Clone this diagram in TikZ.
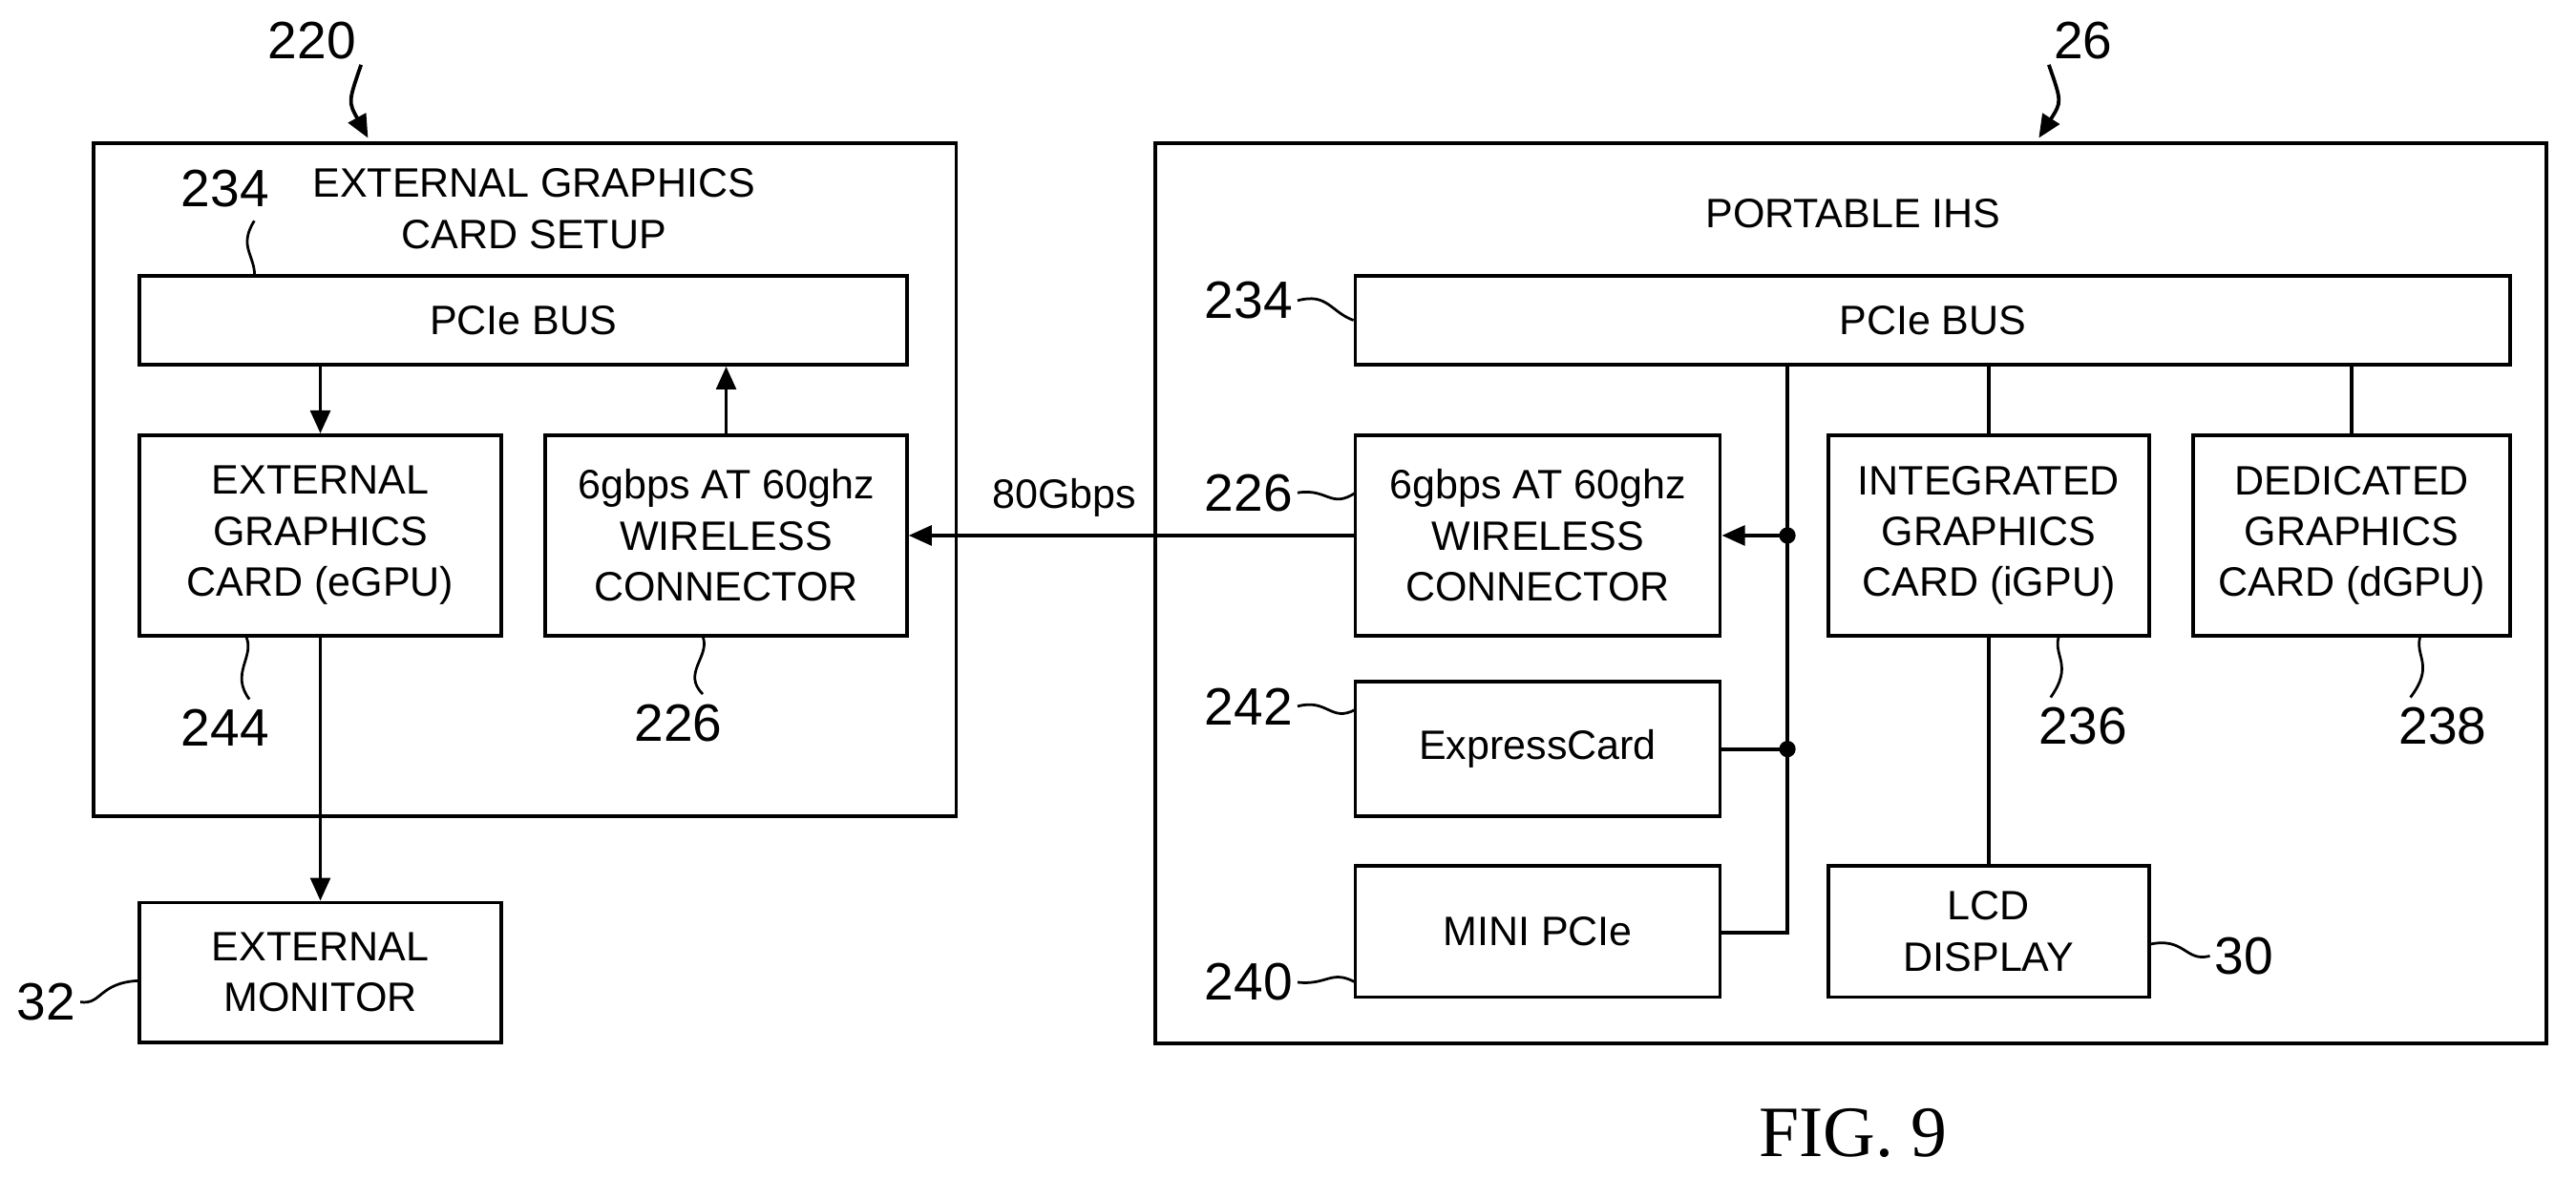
\documentclass[tikz,border=0pt]{standalone}
\usepackage{fontspec}
\setmainfont{Liberation Sans}
\newfontfamily\serifb{Liberation Serif}
\usetikzlibrary{arrows.meta}
\begin{document}
\begin{tikzpicture}[x=0.5pt,y=-0.5pt,line width=1.1pt,
  box/.style={draw,inner sep=0pt,align=center,font=\fontsize{12.5}{15.5}\selectfont},
  lbl/.style={font=\fontsize{16}{18}\selectfont,inner sep=1pt},
  txt/.style={font=\fontsize{12.5}{15.5}\selectfont,align=center},
  arr/.style={-{Triangle[length=7pt,width=6pt]}},
  lead/.style={line width=0.8pt}]
\useasboundingbox (0,0) rectangle (1568,717);
% left
\node[draw,minimum width=262.5pt,minimum height=205pt] (L) at (319.5,292) {};
\node[txt] (Lt) at (325,127) {EXTERNAL GRAPHICS\\CARD SETUP};
\node[box,minimum width=233.5pt,minimum height=27pt] (lbus) at (318.5,195) {PCIe BUS};
\node[box,minimum width=110pt,minimum height=61pt] (egpu) at (195,326) {EXTERNAL\\GRAPHICS\\CARD (eGPU)};
\node[box,minimum width=110pt,minimum height=61pt] (lw) at (442,326) {6gbps AT 60ghz\\WIRELESS\\CONNECTOR};
\node[box,minimum width=110pt,minimum height=42.5pt] (mon) at (195,592) {EXTERNAL\\MONITOR};
\draw[arr] (lbus.south -| egpu) -- (egpu.north);
\draw[arr] (lw.north) -- (lbus.south -| lw);
\draw[arr] (egpu.south) -- (mon.north);
\node[lbl] (n220) at (190,25) {220};
\node[lbl] (n234a) at (137,115) {234};
\node[lbl] (n244) at (137,443) {244};
\node[lbl] (n226a) at (413,440) {226};
\node[lbl] (n32) at (28,610) {32};
\draw[arr] (n220.south east) .. controls (212,62) .. (224,84);
\draw[lead] (n234a.south east) ++(-12,5) .. controls (145,150) and (155,155) .. (155,168);
\draw[lead] (n244.north east) ++(-15,-3) .. controls (140,410) and (155,400) .. (150,388);
\draw[lead] (n226a.north east) ++(-15,-3) .. controls (415,410) and (432,400) .. (428,388);
\draw[lead] (n32.east) .. controls (62,612) and (60,598) .. (85,597);
% right
\node[draw,minimum width=423.5pt,minimum height=274pt] (R) at (1126.5,361) {};
\node[txt] (Rt) at (1128,130) {PORTABLE IHS};
\node[box,minimum width=351.5pt,minimum height=27pt] (rbus) at (1176.5,195) {PCIe BUS};
\node[box,minimum width=111pt,minimum height=61pt] (rw) at (936,326) {6gbps AT 60ghz\\WIRELESS\\CONNECTOR};
\node[box,minimum width=97.5pt,minimum height=61pt] (igpu) at (1210.5,326) {INTEGRATED\\GRAPHICS\\CARD (iGPU)};
\node[box,minimum width=96.5pt,minimum height=61pt] (dgpu) at (1431.5,326) {DEDICATED\\GRAPHICS\\CARD (dGPU)};
\node[box,minimum width=111pt,minimum height=41pt] (ec) at (936,456) {ExpressCard};
\node[box,minimum width=111pt,minimum height=40pt] (mp) at (936,567) {MINI PCIe};
\node[box,minimum width=97.5pt,minimum height=40pt] (lcd) at (1210.5,567) {LCD\\DISPLAY};
\coordinate (b0) at (1088,222);
\coordinate (d1) at (1088,326);
\coordinate (d2) at (1088,456);
\coordinate (b3) at (1088,568);
\draw (b0) -- (b3) -- (mp.east |- b3);
\draw (d2) -- (ec.east);
\draw[arr] (d1) -- (rw.east);
\fill (d1) circle (2.5pt) (d2) circle (2.5pt);
\draw (rbus.south -| igpu) -- (igpu.north);
\draw (rbus.south -| dgpu) -- (dgpu.north);
\draw (igpu.south) -- (lcd.north);
\draw[arr] (rw.west) -- (lw.east);
\node[txt] (g80) at (648,303) {80Gbps};
\node[lbl] (n26) at (1268,25) {26};
\node[lbl] (n234b) at (760,183) {234};
\node[lbl] (n226b) at (760,300) {226};
\node[lbl] (n242) at (760,430) {242};
\node[lbl] (n240) at (760,598) {240};
\node[lbl] (n236) at (1268,442) {236};
\node[lbl] (n238) at (1487,442) {238};
\node[lbl] (n30) at (1366,582) {30};
\draw[arr] (n26.south west) .. controls (1255,62) .. (1241,84);
\draw[lead] (n234b.east) .. controls (808,178) and (810,190) .. (rbus.west);
\draw[lead] (n226b.east) .. controls (808,297) and (810,310) .. (825,300);
\draw[lead] (n242.east) .. controls (808,425) and (810,440) .. (825,432);
\draw[lead] (n240.east) .. controls (808,600) and (810,590) .. (825,598);
\draw[lead] (n236.north west) ++(10,-3) .. controls (1262,405) and (1250,400) .. (1253,388);
\draw[lead] (n238.north west) ++(10,-3) .. controls (1482,405) and (1470,400) .. (1473,388);
\draw[lead] (n30.west) .. controls (1330,586) and (1330,570) .. (1308,575);
\node[font=\serifb\fontsize{22}{24}\selectfont] (fig) at (1128,690) {FIG. 9};
\end{tikzpicture}
\end{document}
